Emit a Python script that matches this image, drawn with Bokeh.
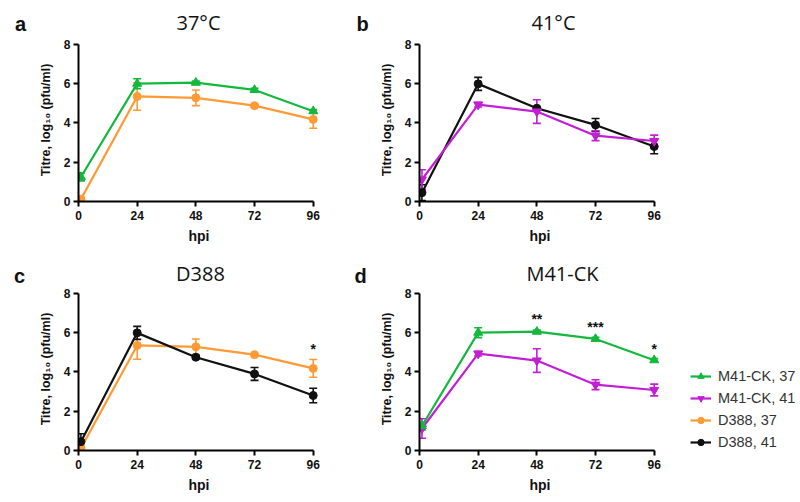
from bokeh.plotting import figure
from bokeh.models import (Range1d, Whisker, TeeHead, ColumnDataSource, Legend,
                          LegendItem, FixedTicker)
from bokeh.layouts import column, row
from bokeh.embed import file_html
from bokeh.resources import INLINE
from bokeh.core.properties import value

# ---------------- data ----------------
hpi = [1, 24, 48, 72, 96]
x_ticks = [0, 24, 48, 72, 96]
y_ticks = [0, 2, 4, 6, 8]

m41_37 = [1.25, 6.0, 6.05, 5.68, 4.6]
m41_37_err = [0.2, 0.25, 0.08, 0.08, 0.08]
m41_41 = [1.12, 4.93, 4.58, 3.35, 3.08]
m41_41_err = [0.5, 0.12, 0.6, 0.25, 0.3]
d388_37 = [0.12, 5.35, 5.28, 4.88, 4.18]
d388_37_err = [0.1, 0.7, 0.4, 0.06, 0.45]
d388_41 = [0.45, 5.99, 4.75, 3.9, 2.8]
d388_41_err = [0.4, 0.33, 0.07, 0.33, 0.37]

labels = ["M41-CK, 37", "M41-CK, 41", "D388, 37", "D388, 41"]

panel_letters = ["a", "b", "c", "d"]
panel_titles = ["37\u00b0C", "41\u00b0C", "D388", "M41-CK"]

stars_c_x = [96]
stars_c_y = [5.15]
stars_c_t = ["*"]
stars_d_x = [48, 72, 96]
stars_d_y = [6.7, 6.3, 5.15]
stars_d_t = ["**", "***", "*"]

GREEN = "#14b83c"
MAGENTA = "#c21fd4"
ORANGE = "#ff9a35"
BLACK = "#111111"

series = {
    "M41-CK, 37": (m41_37, m41_37_err, GREEN, "triangle", 9),
    "M41-CK, 41": (m41_41, m41_41_err, MAGENTA, "inverted_triangle", 9),
    "D388, 37": (d388_37, d388_37_err, ORANGE, "circle", 8),
    "D388, 41": (d388_41, d388_41_err, BLACK, "circle", 8),
}

FONT = "Liberation Sans"
KX = 234.7 / 96.0      # px per hour
FW = 241               # frame width
FH = 163               # frame height
YTOP = 8.3
NAN = float("nan")


def panel(names, stars=None, left=78, right=30, top=2, bottom=45,
          legend=False):
    p = figure(frame_width=FW, frame_height=FH,
               x_range=Range1d(0, FW / KX), y_range=Range1d(0, YTOP),
               output_backend="svg", toolbar_location=None,
               min_border_left=left, min_border_right=right,
               min_border_top=top, min_border_bottom=bottom)
    p.outline_line_color = None
    p.grid.visible = False

    for ax in (p.xaxis, p.yaxis):
        ax.axis_line_width = 2
        ax.axis_line_color = "black"
        ax.major_tick_line_width = 2
        ax.major_tick_line_color = "black"
        ax.major_tick_out = 5
        ax.major_tick_in = 0
        ax.minor_tick_line_color = None
        ax.major_label_text_font = FONT
        ax.major_label_text_font_style = "bold"
        ax.major_label_text_font_size = "12px"
        ax.major_label_text_color = "#111111"
        ax.axis_label_text_font = FONT
        ax.axis_label_text_font_style = "bold"
        ax.axis_label_text_color = "#111111"
    p.xaxis.bounds = (0, 96)
    p.yaxis.bounds = (0, 8)
    p.xaxis.ticker = FixedTicker(ticks=x_ticks)
    p.yaxis.ticker = FixedTicker(ticks=y_ticks)
    p.xaxis.major_label_standoff = 4
    p.yaxis.major_label_standoff = 3
    p.xaxis.axis_label = "hpi"
    p.xaxis.axis_label_text_font_size = "14px"
    p.xaxis.axis_label_standoff = 5
    p.yaxis.axis_label = "Titre, log\u2081\u2080 (pfu/ml)"
    p.yaxis.axis_label_text_font_size = "12.5px"
    p.yaxis.axis_label_standoff = 8

    rends = {}
    for name in names:
        vals, errs, col, mk, sz = series[name]
        src = ColumnDataSource(dict(
            x=hpi, y=vals,
            lo=[v - e for v, e in zip(vals, errs)],
            hi=[v + e for v, e in zip(vals, errs)]))
        w = Whisker(base="x", lower="lo", upper="hi", source=src,
                    line_color=col, line_width=1.6,
                    upper_head=TeeHead(size=8, line_color=col, line_width=1.6),
                    lower_head=TeeHead(size=8, line_color=col, line_width=1.6))
        p.add_layout(w)
        lr = p.line("x", "y", source=src, line_color=col, line_width=2.2)
        sr = p.scatter("x", "y", source=src, marker=mk, size=sz,
                       fill_color=col, line_color=col)
        rends[name] = [lr, sr]

    if stars:
        sx, sy, st = stars
        p.text(x=sx, y=sy, text=st, text_font=value(FONT),
               text_font_size="14px", text_font_style="bold",
               text_align="center", text_baseline="middle",
               text_color="#111111")

    if legend:
        items = []
        for name in labels:
            if name not in rends:
                vals, errs, col, mk, sz = series[name]
                lr = p.line([NAN], [NAN], line_color=col, line_width=2.2)
                sr = p.scatter([NAN], [NAN], marker=mk, size=sz,
                               fill_color=col, line_color=col)
                rends[name] = [lr, sr]
            items.append(LegendItem(label=name, renderers=rends[name]))
        lg = Legend(items=items, location=(30, 0), padding=0, margin=0,
                    spacing=6, glyph_height=16, glyph_width=21,
                    label_height=16, label_standoff=7,
                    label_text_font=FONT, label_text_font_size="14.5px",
                    label_text_color="#333333",
                    border_line_color=None, background_fill_alpha=0)
        p.add_layout(lg, "right")
    return p


def header(h, letters, titles, letter_x, title_x, ly, ty):
    p = figure(width=792, height=h, x_range=Range1d(0, 792),
               y_range=Range1d(0, h), output_backend="svg",
               toolbar_location=None, x_axis_location=None,
               y_axis_location=None, min_border=0)
    p.outline_line_color = None
    p.grid.visible = False
    p.text(x=letter_x, y=[ly] * len(letters), text=letters,
           text_font=value(FONT), text_font_size="20px",
           text_font_style="bold", text_align="center",
           text_baseline="middle", text_color="#111111")
    p.text(x=title_x, y=[ty] * len(titles), text=titles,
           text_font=value("Open Sans"), text_font_size="20px",
           text_align="center", text_baseline="middle",
           text_color="#111111")
    return p


h1 = header(36, panel_letters[:2], panel_titles[:2], [20, 362], [198, 553],
            13, 14)
pa = panel(["D388, 37", "M41-CK, 37"], left=78, right=30, top=2, bottom=45)
pb = panel(["D388, 41", "M41-CK, 41"], left=70, right=132, top=2, bottom=45)
h2 = header(41, panel_letters[2:], panel_titles[2:], [19, 360], [200, 562],
            12, 14.5)
pc = panel(["D388, 37", "D388, 41"],
           stars=(stars_c_x, stars_c_y, stars_c_t),
           left=78, right=30, top=0, bottom=44)
pd_ = panel(["M41-CK, 41", "M41-CK, 37"],
            stars=(stars_d_x, stars_d_y, stars_d_t),
            left=70, right=132, top=0, bottom=44, legend=True)

layout = column(h1, row(pa, pb), h2, row(pc, pd_))
open("out.html", "w").write(file_html(layout, INLINE))
